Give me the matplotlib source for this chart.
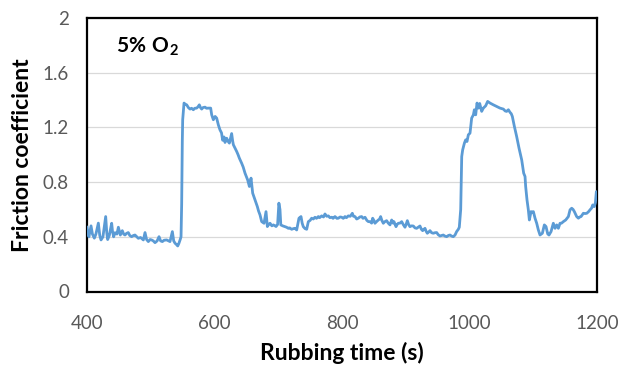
import matplotlib
matplotlib.use("Agg")
import matplotlib.pyplot as plt

plt.rcParams['font.family'] = ['Lato', 'DejaVu Sans']
plt.rcParams['mathtext.fontset'] = 'custom'
plt.rcParams['mathtext.rm'] = 'Lato'
plt.rcParams['mathtext.bf'] = 'Lato:bold'

# ---- data ----
time_s = [
    400, 401.5, 403, 406.3, 408.5, 411.5, 414, 417.8, 420, 422, 425, 429.3, 431, 432.4, 435,
    438.7, 440, 441.8, 444, 447, 449.2, 452.3, 455.4, 457.5, 459.6, 462, 464.8, 467, 470, 473,
    475.3, 478, 480.5, 484, 488.4, 491, 493.5, 496.2, 499, 501.4, 504, 506.7, 510, 513, 515.5,
    518.2, 521, 525, 528, 530.2, 533.9, 536, 538.1, 540, 542.3, 544, 546, 547.5,
    548.5, 549.5, 550.1, 552.2, 554, 556.4, 559, 561.6, 564, 566.8, 569, 572, 574, 576.2, 578,
    579.9, 582, 585.1, 587.5, 590.3, 594, 595.6, 598.2, 601, 603.4, 606, 608.6, 611, 612.8, 615,
    616.5, 619.1, 621, 623.3, 626.9, 628.5, 629.6, 632, 634.8, 637, 639, 642.6, 645, 647.9, 650,
    652, 654.7, 657.3, 659.9, 663.5, 667.2, 669, 671.4, 674, 677.7, 680.8, 682.9, 685, 687.1, 690,
    692.3, 695, 696.5, 699,
    701, 702.7, 704, 707, 710.6, 713, 715.8, 718, 721, 724, 726.3, 728.9, 731, 732.5, 735.7,
    737.5, 739.3, 742, 744.6, 747.2, 750, 752.4, 755, 757.6, 760, 762.9, 765, 768.1, 771, 773.3,
    776, 778.6, 781, 783.8, 786, 789, 792, 794.2, 797, 799.5, 802, 804.7, 807, 809.9, 813,
    816.2, 818, 820.4, 823, 825.6, 828, 830.8, 833, 836.1, 839, 841.3, 843.9, 846.5, 848.1, 850,
    851.7, 854, 857, 859, 860.6, 862.5, 864.8, 867, 870, 872.5, 875.3, 877.9, 880, 881.5, 884.7,
    886.5, 888.3, 891, 893.6, 896, 898.8, 900.5, 902.5, 904.5, 906.6, 909, 911.9, 914.5, 917.1, 919.5,
    922.3, 924.5, 926.5, 928.5, 930.2, 932, 933.8, 936, 938, 940.5, 943.2, 946, 948.5, 951, 953.7,
    956.5, 958.9, 961.5, 964.2, 967, 969.4, 972, 974.6, 977.3, 979.8, 982.5, 984,
    986.2, 987.2, 987.8, 989.3, 992, 994, 996.1, 998.2, 1000.8, 1003.4, 1006.1, 1007.6, 1009.7,
    1011.8, 1013.9, 1016, 1019.1, 1021.7, 1025.4, 1028.5, 1032.2, 1037.4, 1042.7, 1047.9, 1053.1,
    1056, 1058.3, 1061, 1063.6, 1065.5, 1067.2, 1070.4, 1074, 1077.7, 1081.9, 1085, 1087.1, 1088.1,
    1089.7, 1090.2, 1092.3, 1093.9, 1096.5, 1098.5, 1100.2, 1102.8, 1105.4, 1108, 1110.6, 1114.3,
    1117.4, 1120, 1122.7, 1124.7, 1127.9, 1131.5, 1134.2, 1136.8, 1139.4, 1142, 1144.5, 1147.2,
    1150.9, 1155.1, 1157.7, 1160.3, 1162.5, 1164.5, 1168.1, 1170.8, 1173, 1175, 1178.6, 1181.2,
    1184, 1187, 1189, 1191.5, 1193.3, 1195.8, 1197.5, 1199, 1200,
]
friction = [
    0.47, 0.43, 0.40, 0.48, 0.42, 0.39, 0.42, 0.50, 0.41, 0.377, 0.40, 0.548, 0.43, 0.38, 0.41,
    0.499, 0.44, 0.40, 0.43, 0.42, 0.47, 0.413, 0.445, 0.42, 0.413, 0.425, 0.431, 0.41, 0.401, 0.41,
    0.413, 0.40, 0.389, 0.395, 0.377, 0.431, 0.38, 0.365, 0.38, 0.377, 0.37, 0.357, 0.37, 0.401, 0.37,
    0.365, 0.375, 0.377, 0.37, 0.365, 0.438, 0.37, 0.353, 0.345, 0.333, 0.35, 0.377, 0.40,
    0.64, 1.10, 1.256, 1.378, 1.37, 1.365, 1.345, 1.334, 1.34, 1.329, 1.34, 1.341, 1.35, 1.365, 1.345,
    1.334, 1.345, 1.348, 1.34, 1.341, 1.341, 1.292, 1.256, 1.28, 1.268, 1.219, 1.182, 1.16, 1.106, 1.13,
    1.090, 1.121, 1.10, 1.085, 1.155, 1.10, 1.073, 1.05, 1.024, 1.00, 0.975, 0.938, 0.91, 0.865, 0.84,
    0.816, 0.768, 0.829, 0.719, 0.670, 0.621, 0.59, 0.560, 0.511, 0.499, 0.584, 0.475, 0.49, 0.499, 0.48,
    0.487, 0.48, 0.475, 0.49,
    0.646, 0.60, 0.487, 0.48, 0.474, 0.47, 0.462, 0.465, 0.455, 0.46, 0.462, 0.450, 0.50, 0.536, 0.548,
    0.50, 0.474, 0.46, 0.455, 0.511, 0.52, 0.536, 0.53, 0.543, 0.535, 0.548, 0.54, 0.553, 0.545, 0.567,
    0.55, 0.553, 0.54, 0.543, 0.535, 0.548, 0.535, 0.536, 0.545, 0.543, 0.535, 0.548, 0.54, 0.553, 0.55,
    0.572, 0.55, 0.548, 0.53, 0.536, 0.545, 0.548, 0.535, 0.543, 0.52, 0.511, 0.511, 0.50, 0.536, 0.52,
    0.499, 0.51, 0.523, 0.53, 0.548, 0.52, 0.499, 0.51, 0.518, 0.50, 0.487, 0.523, 0.50, 0.511, 0.474,
    0.49, 0.499, 0.50, 0.511, 0.49, 0.470, 0.49, 0.518, 0.49, 0.474, 0.48, 0.479, 0.465, 0.462, 0.47,
    0.479, 0.455, 0.445, 0.455, 0.462, 0.44, 0.426, 0.435, 0.445, 0.43, 0.426, 0.43, 0.431, 0.415, 0.406,
    0.41, 0.413, 0.405, 0.401, 0.41, 0.413, 0.405, 0.401, 0.413, 0.438, 0.455, 0.47,
    0.60, 0.85, 0.987, 1.036, 1.085, 1.109, 1.097, 1.146, 1.158, 1.268, 1.292, 1.329, 1.292,
    1.378, 1.341, 1.375, 1.317, 1.341, 1.358, 1.390, 1.378, 1.365, 1.353, 1.341, 1.334,
    1.32, 1.317, 1.329, 1.31, 1.30, 1.280, 1.207, 1.133, 1.048, 0.962, 0.865, 0.841, 0.768,
    0.694, 0.670, 0.597, 0.523, 0.584, 0.58, 0.584, 0.536, 0.499, 0.450, 0.413, 0.426,
    0.487, 0.475, 0.421, 0.413, 0.438, 0.499, 0.462, 0.487, 0.462, 0.499, 0.50, 0.511,
    0.523, 0.548, 0.597, 0.609, 0.60, 0.584, 0.548, 0.536, 0.545, 0.548, 0.572, 0.57,
    0.572, 0.585, 0.597, 0.61, 0.633, 0.621, 0.65, 0.73, 0.70,
]
x_ticks = [400, 600, 800, 1000, 1200]
y_ticks = [0, 0.4, 0.8, 1.2, 1.6, 2]
y_tick_labels = ["0", "0.4", "0.8", "1.2", "1.6", "2"]
x_label = "Rubbing time (s)"
y_label = "Friction coefficient"
annotation = r"$\mathbf{5\%\ O_2}$"

fig = plt.figure(figsize=(6.2, 3.66), dpi=100)
ax = fig.add_axes([87/620, 1 - 291.5/366, (597 - 87)/620, (291.5 - 18)/366])

ax.plot(time_s, friction, color="#5B9BD5", lw=2.0, solid_joinstyle="round", zorder=3)

ax.set_xlim(400, 1200)
ax.set_ylim(0, 2)
ax.set_xticks(x_ticks)
ax.set_yticks(y_ticks)
ax.set_yticklabels(y_tick_labels)
ax.grid(axis="y", color="#D9D9D9", lw=0.9, zorder=0)
ax.set_axisbelow(True)
ax.tick_params(length=0, labelsize=13.5, labelcolor="#595959")
ax.tick_params(axis="y", pad=13)
ax.tick_params(axis="x", pad=17)
for sp in ax.spines.values():
    sp.set_linewidth(1.6)
    sp.set_color("black")

ax.set_xlabel(x_label, fontsize=16.5, fontweight="bold", labelpad=7)
ax.set_ylabel(y_label, fontsize=16.5, fontweight="bold", labelpad=7)
ax.text(445, 1.79, annotation, fontsize=15, va="center", ha="left", color="black")

fig.savefig("out.png", dpi=100)
